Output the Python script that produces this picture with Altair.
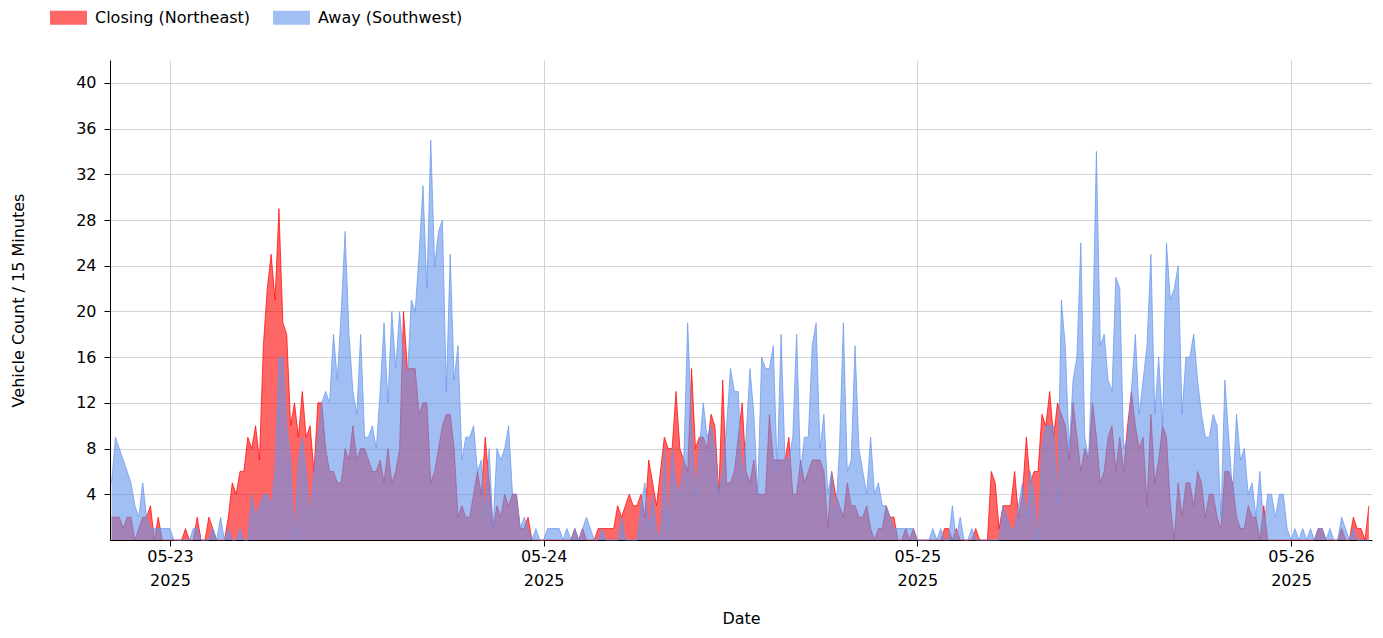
import altair as alt
import pandas as pd

S_RED = "Closing (Northeast)"
S_BLUE = "Away (Southwest)"

# 15-minute counts starting 2025-05-22 20:15
closing = [
    2, 2, 2, 1, 2, 2, 0, 1, 2, 2, 3, 0, 2, 0, 0, 0, 0, 0, 0, 1, 0, 0, 2, 0, 0, 2, 1, 0, 0, 0,
    2, 5, 4, 6, 6, 9, 8, 10, 7, 17, 22, 25, 21, 29, 19, 18, 10, 12, 9, 13, 9, 10, 6, 12, 12, 8, 6, 6, 5, 5, 8,
    7, 10, 7, 8, 8, 7, 6, 6, 7, 5, 8, 5, 6, 8, 20, 15, 15, 15, 11, 12, 12, 5, 6, 8, 10, 11, 11, 8, 2, 3, 2,
    2, 4, 6, 4, 9, 5, 1, 3, 2, 4, 3, 4, 4, 1, 1, 2, 0, 0, 0, 0, 0, 0, 0, 0, 0, 0, 0, 1, 0, 1, 0,
    0, 0, 1, 1, 1, 1, 1, 3, 2, 3, 4, 3, 3, 4, 2, 7, 5, 3, 6, 9, 8, 8, 13, 8, 7, 6, 15, 8, 9, 9, 8,
    11, 10, 4, 14, 5, 5, 6, 9, 12, 6, 5, 7, 4, 4, 4, 11, 7, 7, 7, 7, 9, 4, 4, 7, 5, 6, 7, 7, 7, 6, 1,
    6, 4, 3, 2, 5, 3, 3, 2, 2, 3, 1, 0, 1, 1, 3, 2, 2, 0, 0, 1, 0, 1, 0, 0, 0, 0, 0, 0, 0, 1,
    1, 0, 1, 0, 0, 0, 0, 1, 0, 0, 0, 6, 5, 1, 3, 3, 3, 6, 2, 4, 9, 5, 6, 6, 11, 10, 13, 9, 12, 11, 10,
    7, 12, 9, 6, 8, 7, 12, 9, 5, 6, 9, 10, 6, 9, 6, 10, 13, 10, 8, 9, 3, 11, 5, 7, 10, 9, 3, 0, 5, 2, 5,
    5, 3, 6, 5, 2, 4, 4, 2, 1, 6, 6, 5, 2, 1, 1, 3, 2, 2, 0, 3, 0, 0, 0,
    0, 0, 0, 0, 0, 0, 0, 0, 0, 0, 1, 1, 0, 0, 0, 0, 1, 0, 0, 2, 1, 1, 0, 3,
]

away = [
    5, 9, 8, 7, 6, 5, 3, 2, 5, 2, 1, 1, 1, 1, 1, 1, 0, 0, 0, 0, 0, 1, 1, 0, 0, 0, 1, 0, 2, 0,
    1, 0, 0, 1, 0, 0, 4, 2, 3, 4, 4, 3, 6, 16, 16, 10, 7, 0, 7, 9, 6, 2, 6, 9, 12, 13, 12, 18, 14, 20, 27,
    18, 13, 11, 18, 9, 9, 10, 8, 13, 19, 12, 20, 15, 20, 16, 14, 21, 20, 25, 31, 22, 35, 24, 27, 28, 13, 25, 14, 17, 7, 9,
    9, 10, 6, 7, 2, 8, 1, 8, 7, 8, 10, 4, 4, 1, 2, 1, 0, 1, 0, 0, 1, 1, 1, 1, 0, 1, 0, 1, 0, 1, 2,
    1, 0, 0, 1, 0, 0, 0, 0, 2, 0, 0, 0, 0, 3, 5, 1, 4, 1, 0, 8, 1, 8, 5, 4, 7, 19, 10, 4, 8, 12, 9,
    10, 8, 4, 6, 10, 15, 13, 13, 5, 9, 15, 11, 4, 16, 15, 15, 17, 6, 18, 7, 7, 9, 18, 6, 9, 9, 17, 19, 8, 11, 4,
    6, 2, 8, 19, 6, 7, 17, 8, 6, 4, 9, 4, 5, 3, 3, 2, 1, 1, 1, 1, 1, 1, 0, 0, 0, 0, 1, 0, 1, 0,
    0, 3, 0, 2, 0, 0, 1, 0, 0, 0, 0, 0, 0, 0, 3, 2, 1, 1, 3, 5, 2, 6, 4, 0, 8, 10, 10, 10, 3, 21, 17,
    8, 14, 16, 26, 9, 7, 17, 34, 17, 18, 14, 13, 23, 22, 8, 9, 13, 18, 11, 14, 17, 25, 11, 16, 10, 26, 21, 22, 24, 11, 16,
    16, 18, 14, 11, 9, 9, 11, 10, 2, 14, 9, 4, 11, 7, 8, 4, 5, 2, 6, 1, 4, 4, 2,
    4, 4, 1, 0, 1, 0, 1, 0, 1, 0, 1, 1, 0, 1, 0, 0, 2, 1, 0, 1, 0, 0, 0, 0,
]

y_ticks = [4, 8, 12, 16, 20, 24, 28, 32, 36, 40]
day_ticks = [23, 24, 25, 26]

times = pd.date_range("2025-05-22 20:15", periods=len(closing), freq="15min").strftime("%Y-%m-%dT%H:%M:%S")
df = pd.concat([
    pd.DataFrame({"time": times, "value": closing, "series": S_RED}),
    pd.DataFrame({"time": times, "value": away, "series": S_BLUE}),
])

FONT = "DejaVu Sans"

color = alt.Color(
    "series:N",
    scale=alt.Scale(domain=[S_RED, S_BLUE], range=["#FF0000", "#6495ED"]),
    legend=alt.Legend(
        title=None, orient="none", legendX=-60, legendY=-61, direction="horizontal",
        symbolType="M-1,-0.38L1,-0.38L1,0.38L-1,0.38Z", symbolSize=1369,
        symbolOpacity=0.6, symbolStrokeWidth=0, labelFontSize=16, labelFont=FONT,
        labelColor="#000", columnPadding=22, labelOffset=8,
    ),
)

x = alt.X(
    "time:T",
    scale=alt.Scale(domain=[alt.DateTime(year=2025, month=5, date=22, hours=20, minutes=9),
                            alt.DateTime(year=2025, month=5, date=26, hours=5, minutes=12)]),
    axis=alt.Axis(
        values=[alt.DateTime(year=2025, month=5, date=d) for d in day_ticks],
        labelExpr="[timeFormat(datum.value, '%m-%d'), timeFormat(datum.value, '%Y')]",
        title="Date", grid=True, gridColor="#D3D3D3", tickSize=6, tickColor="#000",
        domainColor="#000", labelFontSize=16, labelLineHeight=24, labelFont=FONT,
        labelColor="#000", titleFont=FONT, titleFontSize=16, titleFontWeight="normal",
        titleColor="#000", titlePadding=22, labelPadding=2,
    ),
)
y = alt.Y(
    "value:Q",
    scale=alt.Scale(domain=[0, 42], nice=False),
    axis=alt.Axis(
        values=y_ticks, title="Vehicle Count / 15 Minutes", grid=True, gridColor="#D3D3D3",
        tickSize=6, tickColor="#000", domainColor="#000", labelFontSize=16, labelFont=FONT,
        labelColor="#000", titleFont=FONT, titleFontSize=16, titleFontWeight="normal",
        titleColor="#000", titlePadding=49, labelPadding=8,
    ),
)

base = alt.Chart(df).encode(x=x, y=y, color=color)
red = base.transform_filter(alt.datum.series == S_RED).mark_area(
    opacity=0.6, interpolate="linear", line=alt.OverlayMarkDef(strokeWidth=1, opacity=0.7))
blue = base.transform_filter(alt.datum.series == S_BLUE).mark_area(
    opacity=0.6, interpolate="linear", line=alt.OverlayMarkDef(strokeWidth=1, opacity=0.7))

chart = alt.layer(red, blue).properties(
    width=1262, height=480, autosize="none",
    padding={"left": 102, "top": 52, "right": 3, "bottom": 90},
).configure_view(stroke=None)

chart.save("out.html", embed_options={"renderer": "svg", "actions": False})
